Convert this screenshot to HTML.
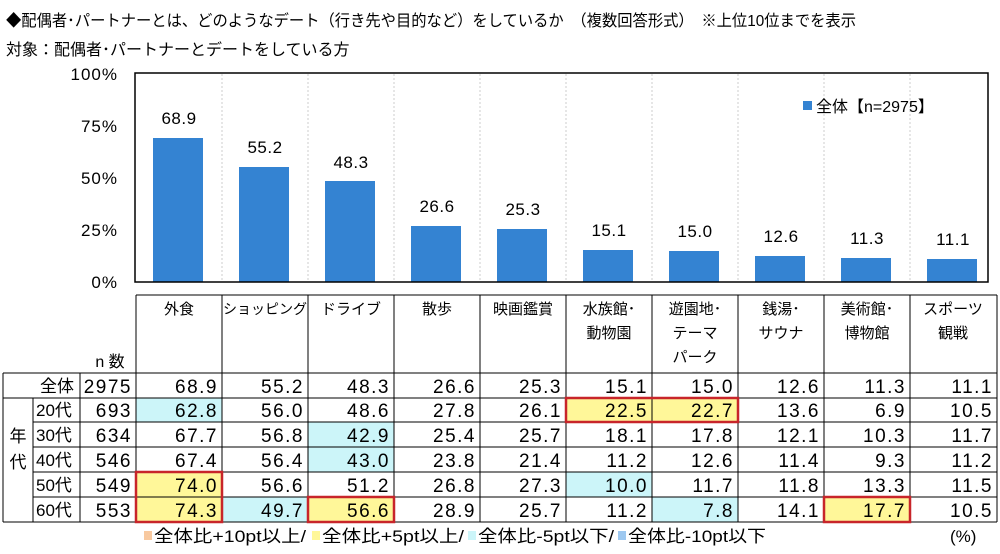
<!DOCTYPE html>
<html><head><meta charset="utf-8"><style>
body{margin:0;background:#fff;width:1000px;height:549px;overflow:hidden}
svg text{font-family:"Liberation Sans","Noto Sans CJK JP",sans-serif;fill:#000}
</style></head><body>
<svg width="1000" height="549" xmlns="http://www.w3.org/2000/svg">
<text x="6" y="26" font-size="16" textLength="850" lengthAdjust="spacingAndGlyphs">◆配偶者･パートナーとは、どのようなデート（行き先や目的など）をしているか　（複数回答形式）　※上位10位までを表示</text>
<text x="6" y="55" font-size="16">対象：配偶者･パートナーとデートをしている方</text>
<g font-size="17" text-anchor="end" letter-spacing="1">
<text x="118" y="80">100%</text><text x="118" y="132">75%</text><text x="118" y="184">50%</text><text x="118" y="236">25%</text><text x="118" y="288">0%</text>
</g>
<g stroke="#ccc" stroke-dasharray="2,2" stroke-width="1">
<line x1="222" y1="74" x2="222" y2="282"/><line x1="308" y1="74" x2="308" y2="282"/><line x1="394" y1="74" x2="394" y2="282"/><line x1="480" y1="74" x2="480" y2="282"/><line x1="566" y1="74" x2="566" y2="282"/><line x1="652" y1="74" x2="652" y2="282"/><line x1="738" y1="74" x2="738" y2="282"/><line x1="824" y1="74" x2="824" y2="282"/><line x1="910" y1="74" x2="910" y2="282"/>
</g>
<g fill="#3483D2">
<rect x="153" y="138" width="50" height="144"/>
<rect x="239" y="167" width="50" height="115"/>
<rect x="325" y="181" width="50" height="101"/>
<rect x="411" y="226" width="50" height="56"/>
<rect x="497" y="229" width="50" height="53"/>
<rect x="583" y="250" width="50" height="32"/>
<rect x="669" y="251" width="50" height="31"/>
<rect x="755" y="256" width="50" height="26"/>
<rect x="841" y="258" width="50" height="24"/>
<rect x="927" y="259" width="50" height="23"/>
</g>
<g font-size="17" text-anchor="middle" letter-spacing="0.5">
<text x="179" y="124">68.9</text><text x="265" y="153">55.2</text><text x="351" y="168">48.3</text><text x="437" y="212">26.6</text><text x="523" y="215">25.3</text><text x="609" y="236">15.1</text><text x="695" y="237">15.0</text><text x="781" y="242">12.6</text><text x="867" y="244">11.3</text><text x="953" y="245">11.1</text>
</g>
<rect x="135" y="73" width="853" height="209" fill="none" stroke="#000" stroke-width="1.5"/>
<rect x="803" y="101" width="9" height="9" fill="#3483D2"/>
<text x="816" y="112" font-size="16">全体【n=2975】</text>

<g fill="#CCF5F9">
<rect x="136" y="398" width="86" height="24"/>
<rect x="308" y="422" width="86" height="50"/>
<rect x="222" y="497" width="86" height="25"/>
<rect x="566" y="472" width="86" height="25"/>
<rect x="652" y="497" width="86" height="25"/>
</g>
<g fill="#FFF799">
<rect x="136" y="472" width="86" height="50"/>
<rect x="308" y="497" width="86" height="25"/>
<rect x="566" y="398" width="172" height="24"/>
<rect x="824" y="497" width="86" height="25"/>
</g>
<g stroke="#000" stroke-width="1" fill="none">
<line x1="136" y1="295" x2="997" y2="295"/>
<line x1="3" y1="373" x2="997" y2="373"/>
<line x1="3" y1="398" x2="997" y2="398"/>
<line x1="33" y1="422" x2="997" y2="422"/>
<line x1="33" y1="447" x2="997" y2="447"/>
<line x1="33" y1="472" x2="997" y2="472"/>
<line x1="33" y1="497" x2="997" y2="497"/>
<line x1="3" y1="522" x2="997" y2="522"/>
<line x1="3" y1="373" x2="3" y2="522"/>
<line x1="33" y1="398" x2="33" y2="522"/>
<line x1="80" y1="373" x2="80" y2="522"/>
<line x1="136" y1="295" x2="136" y2="522"/>
<line x1="222" y1="295" x2="222" y2="522"/><line x1="308" y1="295" x2="308" y2="522"/><line x1="394" y1="295" x2="394" y2="522"/><line x1="480" y1="295" x2="480" y2="522"/><line x1="566" y1="295" x2="566" y2="522"/><line x1="652" y1="295" x2="652" y2="522"/><line x1="738" y1="295" x2="738" y2="522"/><line x1="824" y1="295" x2="824" y2="522"/><line x1="910" y1="295" x2="910" y2="522"/><line x1="997" y1="295" x2="997" y2="522"/>
</g>
<g stroke="#C8252A" stroke-width="2.5" fill="none">
<rect x="136" y="472" width="86" height="50"/>
<rect x="308" y="497" width="86" height="25"/>
<rect x="566" y="398" width="172" height="24"/>
<rect x="824" y="497" width="86" height="25"/>
</g>
<g font-size="15" text-anchor="middle">
<text x="179" y="314">外食</text><text x="265" y="314" font-size="14">ショッピング</text><text x="351" y="314">ドライブ</text><text x="437" y="314">散歩</text><text x="523" y="314">映画鑑賞</text>
<text x="609" y="314">水族館･</text><text x="609" y="338">動物園</text>
<text x="695" y="314">遊園地･</text><text x="695" y="338">テーマ</text><text x="695" y="362">パーク</text>
<text x="781" y="314">銭湯･</text><text x="781" y="338">サウナ</text>
<text x="867" y="314">美術館･</text><text x="867" y="338">博物館</text>
<text x="953" y="314">スポーツ</text><text x="953" y="338">観戦</text>
<text x="110" y="367" font-size="16">n 数</text>
<text x="18" y="442" font-size="17">年</text><text x="18" y="468" font-size="17">代</text>
</g>
<g font-size="17">
<text x="40" y="392">全体</text>
<text x="36" y="416">20代</text><text x="36" y="441">30代</text><text x="36" y="466">40代</text><text x="36" y="491">50代</text><text x="36" y="516">60代</text>
</g>
<g font-size="19" text-anchor="end" letter-spacing="1.5">
<g><text x="132" y="393">2975</text><text x="132" y="417">693</text><text x="132" y="442">634</text><text x="132" y="467">546</text><text x="132" y="492">549</text><text x="132" y="517">553</text></g>
<g transform="translate(218,0)"><text y="393">68.9</text><text y="417">62.8</text><text y="442">67.7</text><text y="467">67.4</text><text y="492">74.0</text><text y="517">74.3</text></g>
<g transform="translate(304,0)"><text y="393">55.2</text><text y="417">56.0</text><text y="442">56.8</text><text y="467">56.4</text><text y="492">56.6</text><text y="517">49.7</text></g>
<g transform="translate(390,0)"><text y="393">48.3</text><text y="417">48.6</text><text y="442">42.9</text><text y="467">43.0</text><text y="492">51.2</text><text y="517">56.6</text></g>
<g transform="translate(476,0)"><text y="393">26.6</text><text y="417">27.8</text><text y="442">25.4</text><text y="467">23.8</text><text y="492">26.8</text><text y="517">28.9</text></g>
<g transform="translate(562,0)"><text y="393">25.3</text><text y="417">26.1</text><text y="442">25.7</text><text y="467">21.4</text><text y="492">27.3</text><text y="517">25.7</text></g>
<g transform="translate(648,0)"><text y="393">15.1</text><text y="417">22.5</text><text y="442">18.1</text><text y="467">11.2</text><text y="492">10.0</text><text y="517">11.2</text></g>
<g transform="translate(734,0)"><text y="393">15.0</text><text y="417">22.7</text><text y="442">17.8</text><text y="467">12.6</text><text y="492">11.7</text><text y="517">7.8</text></g>
<g transform="translate(820,0)"><text y="393">12.6</text><text y="417">13.6</text><text y="442">12.1</text><text y="467">11.4</text><text y="492">11.8</text><text y="517">14.1</text></g>
<g transform="translate(906,0)"><text y="393">11.3</text><text y="417">6.9</text><text y="442">10.3</text><text y="467">9.3</text><text y="492">13.3</text><text y="517">17.7</text></g>
<g transform="translate(993,0)"><text y="393">11.1</text><text y="417">10.5</text><text y="442">11.7</text><text y="467">11.2</text><text y="492">11.5</text><text y="517">10.5</text></g>
</g>
<rect x="144" y="531" width="8" height="9" fill="#F8C9A0"/>
<rect x="312" y="531" width="8" height="9" fill="#FFF799"/>
<rect x="468" y="531" width="8" height="9" fill="#CCF5F9"/>
<rect x="618" y="531" width="8" height="9" fill="#9DC8F0"/>
<text x="154" y="542" font-size="17" textLength="152" lengthAdjust="spacingAndGlyphs">全体比+10pt以上/</text>
<text x="322" y="542" font-size="17" textLength="142" lengthAdjust="spacingAndGlyphs">全体比+5pt以上/</text>
<text x="478" y="542" font-size="17" textLength="136" lengthAdjust="spacingAndGlyphs">全体比-5pt以下/</text>
<text x="628" y="542" font-size="17" textLength="138" lengthAdjust="spacingAndGlyphs">全体比-10pt以下</text>
<text x="950" y="542" font-size="17">(%)</text>
</svg>
</body></html>
